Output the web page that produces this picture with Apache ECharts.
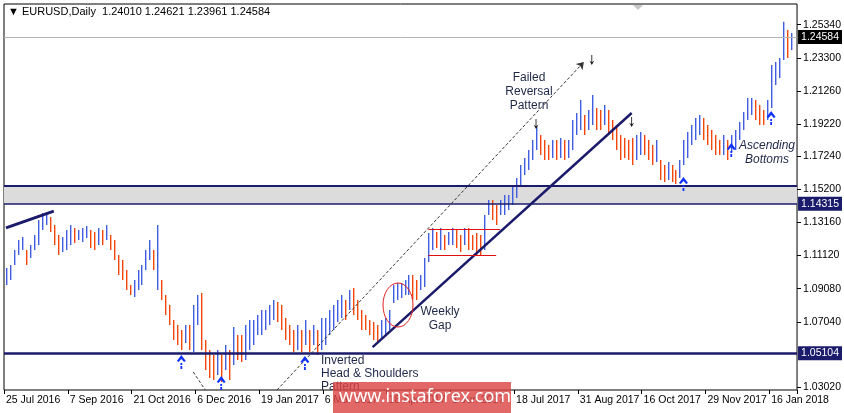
<!DOCTYPE html>
<html>
<head>
<meta charset="utf-8">
<script src="https://cdn.jsdelivr.net/npm/echarts@6/dist/echarts.min.js"></script>
<style>
  html, body { margin: 0; padding: 0; background: #fff; }
  #chart { width: 844px; height: 413px; }
</style>
</head>
<body>
<div id="chart"></div>
<script>
// Daily bars (two trading days per bar)
const highs = [
  1.1035,1.1054,1.1146,1.1208,1.1226,1.1146,1.1177,1.1238,1.1331,1.1374,
  1.1374,1.1349,1.1300,1.1238,1.1226,1.1269,1.1300,1.1282,1.1269,1.1282,
  1.1294,1.1269,1.1257,1.1282,1.1269,1.1300,1.1238,1.1208,1.1115,1.1084,
  1.1023,1.0930,1.0961,1.1023,1.1054,1.1146,1.1208,1.1146,1.1300,1.0961,
  1.0869,1.0807,1.0715,1.0684,1.0653,1.0684,1.0684,1.0807,1.0869,1.0881,
  1.0592,1.0530,1.0499,1.0530,1.0499,1.0561,1.0530,1.0672,1.0622,1.0622,
  1.0684,1.0715,1.0715,1.0746,1.0776,1.0776,1.0807,1.0838,1.0826,1.0807,
  1.0727,1.0684,1.0653,1.0684,1.0653,1.0715,1.0653,1.0684,1.0653,1.0727,
  1.0727,1.0776,1.0807,1.0838,1.0869,1.0838,1.0900,1.0912,1.0838,1.0776,
  1.0746,1.0715,1.0702,1.0684,1.0715,1.0727,1.0776,1.0930,1.0943,1.0943,
  1.0961,1.0992,1.0992,1.0961,1.0992,1.1097,1.1251,1.1282,1.1257,1.1282,
  1.1238,1.1257,1.1282,1.1269,1.1238,1.1282,1.1282,1.1238,1.1251,1.1238,
  1.1362,1.1454,1.1454,1.1423,1.1454,1.1485,1.1485,1.1546,1.1590,1.1670,
  1.1713,1.1762,1.1824,1.1904,1.1854,1.1824,1.1793,1.1824,1.1824,1.1836,
  1.1824,1.1824,1.1947,1.1990,1.2070,1.1978,1.2008,1.2101,1.2021,1.2008,
  1.2039,1.2008,1.1947,1.1916,1.1854,1.1836,1.1824,1.1836,1.1854,1.1873,
  1.1854,1.1824,1.1793,1.1824,1.1700,1.1670,1.1688,1.1670,1.1639,1.1700,
  1.1824,1.1873,1.1916,1.1959,1.1978,1.1959,1.1916,1.1885,1.1854,1.1824,
  1.1854,1.1824,1.1854,1.1885,1.1935,1.1996,1.2082,1.2082,1.2070,1.2039,
  1.2008,1.2070,1.2286,1.2304,1.2329,1.2551,1.2501,1.2482
];
const lows = [
  1.0930,1.0961,1.1054,1.1115,1.1146,1.1054,1.1097,1.1146,1.1177,1.1269,
  1.1300,1.1257,1.1177,1.1115,1.1134,1.1146,1.1177,1.1189,1.1208,1.1195,
  1.1220,1.1158,1.1146,1.1177,1.1177,1.1208,1.1146,1.1084,1.0992,1.0961,
  1.0900,1.0869,1.0857,1.0900,1.0930,1.1023,1.1084,1.1023,1.0900,1.0838,
  1.0746,1.0684,1.0592,1.0561,1.0530,1.0573,1.0530,1.0518,1.0684,1.0530,
  1.0407,1.0358,1.0345,1.0376,1.0333,1.0407,1.0345,1.0438,1.0468,1.0456,
  1.0468,1.0530,1.0561,1.0622,1.0622,1.0653,1.0684,1.0715,1.0702,1.0653,
  1.0592,1.0561,1.0518,1.0530,1.0518,1.0561,1.0518,1.0561,1.0499,1.0530,
  1.0561,1.0622,1.0653,1.0702,1.0727,1.0715,1.0776,1.0746,1.0715,1.0653,
  1.0653,1.0622,1.0592,1.0573,1.0604,1.0622,1.0653,1.0820,1.0838,1.0850,
  1.0869,1.0869,1.0838,1.0838,1.0900,1.0918,1.1072,1.1146,1.1158,1.1146,
  1.1146,1.1177,1.1177,1.1158,1.1134,1.1177,1.1146,1.1146,1.1115,1.1115,
  1.1146,1.1362,1.1331,1.1300,1.1362,1.1362,1.1392,1.1423,1.1466,1.1546,
  1.1608,1.1639,1.1700,1.1762,1.1731,1.1700,1.1700,1.1713,1.1700,1.1713,
  1.1700,1.1713,1.1762,1.1854,1.1885,1.1854,1.1885,1.1916,1.1885,1.1885,
  1.1916,1.1854,1.1824,1.1762,1.1700,1.1713,1.1700,1.1670,1.1700,1.1731,
  1.1731,1.1700,1.1670,1.1688,1.1577,1.1565,1.1577,1.1565,1.1553,1.1590,
  1.1670,1.1713,1.1793,1.1824,1.1854,1.1824,1.1793,1.1762,1.1731,1.1731,
  1.1731,1.1700,1.1750,1.1762,1.1824,1.1885,1.1947,1.1978,1.1947,1.1916,
  1.1916,1.1947,1.2021,1.2162,1.2206,1.2316,1.2329,1.2378
];
const tickLabels = ['25 Jul 2016','7 Sep 2016','21 Oct 2016','6 Dec 2016','19 Jan 2017','6 Mar 2017',
  '18 Apr 2017','1 Jun 2017','18 Jul 2017','31 Aug 2017','16 Oct 2017','29 Nov 2017','16 Jan 2018'];
const priceTicks = [1.0302,1.0704,1.0908,1.1112,1.1316,1.1520,1.1724,1.1922,1.2126,1.2330,1.2534];
const support = 1.05104;
const zoneLow = 1.14315, zoneHigh = 1.1540;
const lastPrice = 1.24584;

const BLUE = '#3f5ee0', RED = '#f2460c', NAVY = '#1b1b6b', TXT = '#1e2748';
const N = 199;
const cats = Array.from({length: N}, (_, i) => String(i));
const upBars = [], downBars = [];
highs.forEach((h, i) => {
  const mid = (h + lows[i]) / 2;
  const prev = i ? (highs[i - 1] + lows[i - 1]) / 2 : mid - 1;
  (mid >= prev ? upBars : downBars).push([i, h, lows[i]]);
});

const chart = echarts.init(document.getElementById('chart'));
const F = '"Liberation Sans", sans-serif';
const upArrow = 'path://M5 0 L10 6 L8 7 L5 4 L2 7 L0 6 Z M4 8 L6 8 L6 10 L4 10 Z M4 11 L6 11 L6 14 L4 14 Z';
const downArrow = 'path://M2.5 0 L3.5 0 L3.5 8 L6 6 L3 11 L0 6 L2.5 8 Z';

function boxLabel(text, bg) {
  return { show: true, position: 'end', distance: 1, formatter: text, color: '#fff',
    backgroundColor: bg, padding: [2, 3, 1, 3], fontSize: 10.5, fontFamily: F };
}
function barSeries(data, color) {
  return {
    type: 'custom', data: data, z: 3, itemStyle: { color: color },
    renderItem: (params, api) => {
      const a = api.coord([api.value(0), api.value(1)]);
      const b = api.coord([api.value(0), api.value(2)]);
      return { type: 'rect', shape: { x: Math.round(a[0]), y: a[1], width: 1.4, height: b[1] - a[1] },
        style: { fill: color } };
    }
  };
}
function seg(a, b, style) {
  return [{ coord: a }, { coord: b }].map(p => Object.assign(p, { lineStyle: style, label: { show: false } }));
}

chart.setOption({
  animation: false,
  grid: { left: 4, right: 44, top: 4, bottom: 23, show: true, borderColor: '#000', borderWidth: 1 },
  xAxis: {
    type: 'category', data: cats, boundaryGap: true,
    axisLine: { show: false },
    axisTick: { show: true, interval: (i) => i % 16 === 0, length: 4, lineStyle: { color: '#000' } },
    axisLabel: { interval: (i) => i % 16 === 0, align: 'left', margin: 5, color: '#000', fontSize: 10.5, fontFamily: F,
      hideOverlap: false, showMaxLabel: true, formatter: (v, i) => tickLabels[i / 16] || '' },
    splitLine: { show: false }
  },
  yAxis: {
    type: 'value', position: 'right', min: 1.0284, max: 1.2661, scale: true,
    axisLine: { show: false },
    axisTick: { show: true, customValues: priceTicks, length: 4, lineStyle: { color: '#000' } },
    axisLabel: { customValues: priceTicks, margin: 6, color: '#000', fontSize: 10.5, fontFamily: F,
      formatter: (v) => v.toFixed(5) },
    splitLine: { show: false }
  },
  series: [
    barSeries(upBars, BLUE),
    barSeries(downBars, RED),
    {
      type: 'line', data: [], z: 2,
      markArea: { silent: true, itemStyle: { color: '#dcdcdc' },
        data: [[{ yAxis: zoneLow }, { yAxis: zoneHigh }]] },
      markLine: {
        silent: true, symbol: 'none', precision: 5, animation: false,
        data: [
          { yAxis: lastPrice, lineStyle: { color: '#b4b4b4', width: 1, type: 'solid' }, label: boxLabel('1.24584', '#000') },
          { yAxis: zoneHigh, lineStyle: { color: NAVY, width: 2, type: 'solid' }, label: { show: false } },
          { yAxis: zoneLow, lineStyle: { color: NAVY, width: 1.5, type: 'solid' }, label: boxLabel('1.14315', NAVY) },
          { yAxis: support, lineStyle: { color: NAVY, width: 2.5, type: 'solid' }, label: boxLabel('1.05104', NAVY) },
          seg([0, 1.1282], [12, 1.1386], { color: NAVY, width: 3, type: 'solid' }),
          seg([92, 1.0548], [157, 1.1990], { color: NAVY, width: 2.5, type: 'solid' }),
          seg([106, 1.1276], [124, 1.1276], { color: '#e01010', width: 1, type: 'solid' }),
          seg([106, 1.1115], [123, 1.1115], { color: '#e01010', width: 1, type: 'solid' }),
          seg([47, 1.0395], [50, 1.0284], { color: '#333', width: 1, type: [3, 2] }),
          [{ coord: [68, 1.0284], symbol: 'none' }, { coord: [145, 1.2304], symbol: 'arrow', symbolSize: 7 }].map(p => Object.assign(p, {
            lineStyle: { color: '#333', width: 1, type: [3, 2] }, label: { show: false } }))
        ]
      },
      markPoint: {
        silent: true,
        data: [
          [44, 1.0456], [54, 1.0327], [75, 1.0450], [170, 1.1553], [182, 1.1762], [192, 1.1959]
        ].map(c => ({ coord: c, symbol: upArrow, symbolSize: [9, 14], itemStyle: { color: '#1030ff' }, label: { show: false } }))
        .concat([[133, 1.1922], [147, 1.2316], [157, 1.1934]].map(c => ({
          coord: c, symbol: downArrow, symbolSize: [5, 10], itemStyle: { color: '#111' }, label: { show: false } })))
      }
    }
  ],
  graphic: [
    { type: 'text', left: 8, top: 6, style: { text: '▼ EURUSD,Daily  1.24010 1.24621 1.23961 1.24584', fill: '#000', font: '11px ' + F } },
    { type: 'text', left: 244, top: 187, style: { text: 'Daily Demand Zone ( 1.1415-1.1519 )', fill: TXT, font: '12px ' + F } },
    { type: 'text', x: 529, y: 71, style: { text: 'Failed\nReversal\nPattern', fill: TXT, font: '12px ' + F, textAlign: 'center', lineHeight: 14 } },
    { type: 'text', x: 767, y: 139, style: { text: 'Ascending\nBottoms', fill: TXT, font: 'italic 12px ' + F, textAlign: 'center', lineHeight: 14 } },
    { type: 'text', x: 440, y: 305, style: { text: 'Weekly\nGap', fill: TXT, font: '12px ' + F, textAlign: 'center', lineHeight: 14 } },
    { type: 'text', x: 321, y: 354, style: { text: 'Inverted\nHead & Shoulders\nPattern', fill: TXT, font: '12px ' + F, lineHeight: 13 } },
    { type: 'ellipse', shape: { cx: 398, cy: 305, rx: 15, ry: 22 }, style: { fill: 'none', stroke: '#e02020', lineWidth: 1 }, z: 10 },
    { type: 'rect', shape: { x: 333, y: 382, width: 178, height: 31 }, style: { fill: 'rgba(220,70,70,0.82)' }, z: 20 },
    { type: 'text', x: 339, y: 388, z: 21, style: { text: 'www.instaforex.com', fill: '#fff', font: '18px "Noto Sans", sans-serif' } },
    { type: 'polygon', shape: { points: [[633, 5], [643, 5], [638, 10]] }, style: { fill: '#c8c8c8' } }
  ]
});
</script>
</body>
</html>
